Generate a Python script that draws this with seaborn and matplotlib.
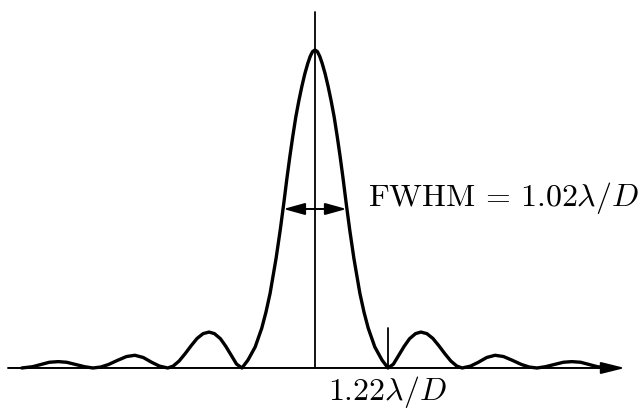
import matplotlib
matplotlib.use("Agg")
import matplotlib.pyplot as plt
import seaborn as sns
import numpy as np

sns.set_theme(style="white")
plt.rcParams["mathtext.fontset"] = "cm"

# Curve: x in units of lambda/D, y normalised to peak
x_right = [0.00, 0.04, 0.08, 0.12, 0.17, 0.22, 0.27, 0.32, 0.37, 0.42, 0.47, 0.52, 0.58, 0.65, 0.75, 0.82, 0.89, 1.00, 1.12, 1.22,
           1.31, 1.40, 1.49, 1.58, 1.68, 1.77, 1.87, 1.97, 2.07, 2.17, 2.27, 2.37, 2.46,
           2.60, 2.73, 2.87, 3.01, 3.15, 3.30, 3.45, 3.58, 3.71,
           3.85, 4.00, 4.15, 4.29, 4.44, 4.58, 4.72, 4.90]
y_right = [1.000, 0.995, 0.980, 0.958, 0.925, 0.885, 0.840, 0.790, 0.730, 0.665, 0.595, 0.520, 0.435, 0.345, 0.235, 0.175, 0.125, 0.066, 0.025, 0.000,
           0.012, 0.040, 0.068, 0.092, 0.108, 0.113, 0.108, 0.093, 0.070, 0.045, 0.022, 0.006, 0.000,
           0.006, 0.018, 0.033, 0.040, 0.036, 0.024, 0.011, 0.003, 0.000,
           0.004, 0.011, 0.018, 0.020, 0.018, 0.011, 0.004, 0.000]

x_vals = [-v for v in x_right[:0:-1]] + x_right
y_vals = y_right[:0:-1] + y_right

first_zero = 1.22
fwhm = 1.055
fwhm_label = r"$\mathrm{FWHM}\,=\,1.02\lambda/D$"
zero_label = r"$1.22\lambda/D$"

fig = plt.figure(figsize=(6.42, 4.12), dpi=100)
ax = fig.add_axes([0, 0, 1, 1])
ax.set_xlim(-5.264, 5.465)
ax.set_ylim(-0.1384, 1.1572)
ax.axis("off")

# horizontal axis with arrow
ms = 10
ax.annotate("", xy=(5.18, 0), xytext=(-5.13, 0),
            arrowprops=dict(arrowstyle=f"-|>,head_length={14.5/ms},head_width={3.6/ms}",
                            lw=1.4, color="black", shrinkA=0, shrinkB=0, mutation_scale=ms))
# vertical axis
ax.plot([0, 0], [0, 1.12], color="black", lw=1.3)
# tick at first zero
ax.plot([first_zero, first_zero], [0, 0.126], color="black", lw=1.3)

sns.lineplot(x=x_vals, y=y_vals, color="black", linewidth=2.4, ax=ax, sort=False)

# FWHM double arrow
ax.annotate("", xy=(fwhm / 2, 0.5), xytext=(-fwhm / 2, 0.5),
            arrowprops=dict(arrowstyle=f"<|-|>,head_length={13/ms},head_width={3.6/ms}",
                            lw=1.4, color="black", shrinkA=0, shrinkB=0, mutation_scale=ms))

ax.text(0.886, 0.509, fwhm_label, fontsize=23, ha="left", va="baseline", color="black")
ax.text(first_zero, -0.1006, zero_label, fontsize=23, ha="center", va="baseline", color="black")

fig.savefig("out.png", dpi=100)
